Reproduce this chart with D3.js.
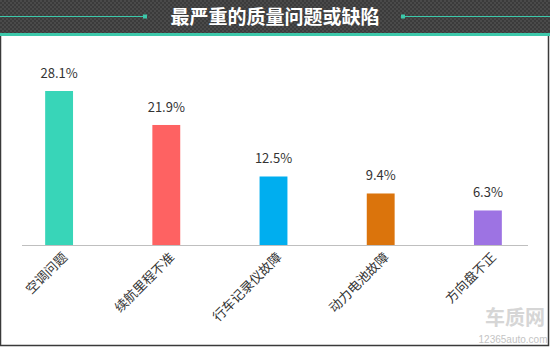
<!DOCTYPE html>
<html>
<head>
<meta charset="utf-8">
<script src="https://cdn.jsdelivr.net/npm/d3@7"></script>
<style>
  body { margin: 0; background: #fff; }
  svg { display: block; font-family: "Noto Sans CJK SC", "Open Sans", sans-serif; }
</style>
</head>
<body>
<div id="chart"></div>
<script>
// Chart data
const categories = ["空调问题", "续航里程不准", "行车记录仪故障", "动力电池故障", "方向盘不正"];
const values = [28.1, 21.9, 12.5, 9.4, 6.3];
const colors = ["#38d5b8", "#fe6262", "#00aeef", "#db740c", "#9d73e3"];
const title = "最严重的质量问题或缺陷";

const width = 550, height = 347;
const baseY = 245;

const svg = d3.select("#chart").append("svg")
    .attr("width", width)
    .attr("height", height);

// Checker pattern for the header
const defs = svg.append("defs");
const pat = defs.append("pattern")
    .attr("id", "checker")
    .attr("width", 4).attr("height", 4)
    .attr("patternUnits", "userSpaceOnUse");
pat.append("rect").attr("width", 4).attr("height", 4).attr("fill", "#3b3b3b");
pat.append("rect").attr("width", 2).attr("height", 2).attr("fill", "#4a4a4a");
pat.append("rect").attr("x", 2).attr("y", 2).attr("width", 2).attr("height", 2).attr("fill", "#4a4a4a");

// Header
svg.append("rect").attr("width", width).attr("height", 33).attr("fill", "url(#checker)");
svg.append("rect").attr("y", 33).attr("width", width).attr("height", 3).attr("fill", "#3cc8aa");

// Decorative lines either side of the title
svg.append("line").attr("x1", 0).attr("x2", 145).attr("y1", 16.5).attr("y2", 16.5)
    .attr("stroke", "#3cc8aa").attr("stroke-width", 1.2);
svg.append("rect").attr("x", 143).attr("y", 14.5).attr("width", 4).attr("height", 4).attr("fill", "#3cc8aa");
svg.append("line").attr("x1", 403).attr("x2", width).attr("y1", 16.5).attr("y2", 16.5)
    .attr("stroke", "#3cc8aa").attr("stroke-width", 1.2);
svg.append("rect").attr("x", 401).attr("y", 14.5).attr("width", 4).attr("height", 4).attr("fill", "#3cc8aa");

svg.append("text")
    .attr("x", 275).attr("y", 23.5)
    .attr("text-anchor", "middle")
    .attr("fill", "#fff")
    .attr("font-size", 19)
    .attr("font-weight", "bold")
    .text(title);

// Frame
svg.append("path")
    .attr("d", `M0.5,36 V${height - 1.5} H${width - 1.5} V36`)
    .attr("fill", "none")
    .attr("stroke", "#3a3a3a")
    .attr("stroke-width", 1.5);

// Scales
const x = d3.scaleBand()
    .domain(categories)
    .range([5.5, 541.5])
    .paddingInner(0.74)
    .paddingOuter(0.37);

const y = d3.scaleLinear()
    .domain([0, 28.1])
    .range([baseY, 91]);

// Bars
svg.selectAll("rect.bar")
    .data(values)
    .join("rect")
    .attr("class", "bar")
    .attr("x", (d, i) => x(categories[i]))
    .attr("y", d => y(d))
    .attr("width", x.bandwidth())
    .attr("height", d => baseY - y(d))
    .attr("fill", (d, i) => colors[i]);

// Value labels
svg.selectAll("text.val")
    .data(values)
    .join("text")
    .attr("class", "val")
    .attr("x", (d, i) => x(categories[i]) + x.bandwidth() / 2)
    .attr("y", d => y(d) - 13)
    .attr("text-anchor", "middle")
    .attr("font-size", 13)
    .attr("fill", "#333")
    .text(d => d.toFixed(1) + "%");

// Baseline
svg.append("line")
    .attr("x1", 22).attr("x2", 528)
    .attr("y1", baseY + 0.5).attr("y2", baseY + 0.5)
    .attr("stroke", "#bfbfbf");

// Category labels, rotated
svg.selectAll("text.cat")
    .data(categories)
    .join("text")
    .attr("class", "cat")
    .attr("text-anchor", "end")
    .attr("font-size", 13)
    .attr("fill", "#333")
    .attr("transform", d => `translate(${x(d) + x.bandwidth() / 2 + 9},${baseY + 13}) rotate(-45)`)
    .text(d => d);

// Watermark
svg.append("text")
    .attr("x", 515).attr("y", 325)
    .attr("text-anchor", "middle")
    .attr("font-size", 20)
    .attr("font-weight", "bold")
    .attr("fill", "#d6d6d6")
    .text("车质网");
svg.append("text")
    .attr("x", 513).attr("y", 342.5)
    .attr("text-anchor", "middle")
    .attr("font-family", "Liberation Sans, Arial, sans-serif")
    .attr("font-size", 10)
    .attr("fill", "#c4c4c4")
    .text("12365auto.com");
</script>
</body>
</html>
